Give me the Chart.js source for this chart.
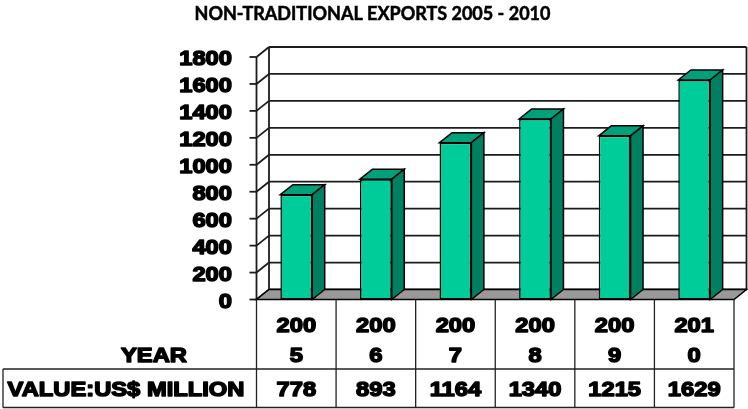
<!DOCTYPE html>
<html>
<head>
<meta charset="utf-8">
<script src="https://cdn.jsdelivr.net/npm/chart.js@4/dist/chart.umd.min.js"></script>
<style>
  html, body { margin: 0; padding: 0; background: #ffffff; }
  #wrap { width: 748px; height: 409px; }
</style>
</head>
<body>
<div id="wrap"><canvas id="c" width="748" height="409"></canvas></div>
<script>
// Non-traditional exports, US$ million
const titleText = 'NON-TRADITIONAL EXPORTS 2005 - 2010';
const years = ['2005', '2006', '2007', '2008', '2009', '2010'];
const exportValues = [778, 893, 1164, 1340, 1215, 1629];
const yTicks = [0, 200, 400, 600, 800, 1000, 1200, 1400, 1600, 1800];
const yearRowLabel = 'YEAR';
const valueRowLabel = 'VALUE:US$ MILLION';

// 3D look: depth offset of the back plane
const DEPTH_X = 12.5;
const DEPTH_Y = -10;

const FRONT = '#00CC99';
const TOP = '#00A07A';
const SIDE = '#008060';
const FLOOR = '#999999';
const INK = '#000000';

function heavyText(ctx, text, x, y, align, size) {
  ctx.save();
  ctx.translate(x, y);
  ctx.scale(1.13, 1);
  ctx.font = 'bold ' + (size || 21) + 'px "Liberation Sans", Arial, sans-serif';
  ctx.textAlign = align;
  ctx.textBaseline = 'alphabetic';
  ctx.fillStyle = INK;
  ctx.strokeStyle = INK;
  ctx.lineWidth = 1.5;
  ctx.lineJoin = 'round';
  ctx.fillText(text, 0, 0);
  ctx.strokeText(text, 0, 0);
  ctx.restore();
}

function line(ctx, x1, y1, x2, y2) {
  ctx.beginPath();
  ctx.moveTo(x1, y1);
  ctx.lineTo(x2, y2);
  ctx.stroke();
}

const box3d = {
  id: 'box3d',
  beforeDatasetsDraw(chart) {
    const ctx = chart.ctx;
    const a = chart.chartArea;
    const ys = chart.scales.y;
    const yTop = ys.getPixelForValue(yTicks[yTicks.length - 1]);
    const yBot = ys.getPixelForValue(0);
    ctx.save();
    // back wall grid lines and left wall diagonals
    ctx.strokeStyle = '#1c1c1c';
    ctx.lineWidth = 1.8;
    yTicks.forEach(v => {
      const py = ys.getPixelForValue(v);
      line(ctx, a.left + DEPTH_X, py + DEPTH_Y, a.right + DEPTH_X, py + DEPTH_Y);
      line(ctx, a.left, py, a.left + DEPTH_X, py + DEPTH_Y);
      line(ctx, a.left - 7, py, a.left, py);
    });
    // wall edges
    line(ctx, a.left, yTop, a.left, yBot);
    line(ctx, a.left + DEPTH_X, yTop + DEPTH_Y, a.left + DEPTH_X, yBot + DEPTH_Y);
    line(ctx, a.right + DEPTH_X, yTop + DEPTH_Y, a.right + DEPTH_X, yBot + DEPTH_Y);
    // floor
    ctx.beginPath();
    ctx.moveTo(a.left, yBot);
    ctx.lineTo(a.right, yBot);
    ctx.lineTo(a.right + DEPTH_X, yBot + DEPTH_Y);
    ctx.lineTo(a.left + DEPTH_X, yBot + DEPTH_Y);
    ctx.closePath();
    ctx.fillStyle = FLOOR;
    ctx.fill();
    ctx.lineWidth = 1.5;
    ctx.strokeStyle = INK;
    ctx.stroke();
    ctx.restore();
  },
  afterDatasetsDraw(chart) {
    const ctx = chart.ctx;
    const meta = chart.getDatasetMeta(0);
    ctx.save();
    ctx.strokeStyle = INK;
    ctx.lineWidth = 1.5;
    ctx.lineJoin = 'miter';
    meta.data.forEach(bar => {
      const p = bar.getProps(['x', 'y', 'base', 'width'], true);
      const L = p.x - p.width / 2, R = p.x + p.width / 2;
      const T = p.y, B = p.base;
      // top face
      ctx.beginPath();
      ctx.moveTo(L, T);
      ctx.lineTo(L + DEPTH_X, T + DEPTH_Y);
      ctx.lineTo(R + DEPTH_X, T + DEPTH_Y);
      ctx.lineTo(R, T);
      ctx.closePath();
      ctx.fillStyle = TOP;
      ctx.fill();
      ctx.stroke();
      // side face
      ctx.beginPath();
      ctx.moveTo(R, T);
      ctx.lineTo(R + DEPTH_X, T + DEPTH_Y);
      ctx.lineTo(R + DEPTH_X, B + DEPTH_Y);
      ctx.lineTo(R, B);
      ctx.closePath();
      ctx.fillStyle = SIDE;
      ctx.fill();
      ctx.stroke();
    });
    ctx.restore();
  },
  afterDraw(chart) {
    const ctx = chart.ctx;
    const a = chart.chartArea;
    const xs = chart.scales.x;
    const ys = chart.scales.y;
    const yBot = ys.getPixelForValue(0);

    // title
    ctx.save();
    ctx.font = 'bold 18px Lato, "Open Sans", sans-serif';
    ctx.fillStyle = INK;
    ctx.strokeStyle = INK;
    ctx.lineWidth = 0.5;
    ctx.textAlign = 'center';
    ctx.textBaseline = 'alphabetic';
    ctx.fillText(titleText, 372.5, 20);
    ctx.strokeText(titleText, 372.5, 20);
    ctx.restore();

    // y tick labels
    yTicks.forEach(v => {
      heavyText(ctx, String(v), 232, ys.getPixelForValue(v) + 8, 'right');
    });

    // data table
    const rowSplit = 369;
    const tableBottom = 407.5;
    const tableLeft = 3;
    ctx.save();
    ctx.strokeStyle = '#222';
    ctx.lineWidth = 1.3;
    const step = (a.right - a.left) / years.length;
    for (let i = 0; i <= years.length; i++) {
      const bx = i < years.length ? xs.getPixelForValue(i) - step / 2 : xs.getPixelForValue(i - 1) + step / 2;
      line(ctx, bx, yBot, bx, tableBottom);
    }
    line(ctx, tableLeft, rowSplit, a.right, rowSplit);
    line(ctx, tableLeft, tableBottom, a.right, tableBottom);
    line(ctx, tableLeft, rowSplit, tableLeft, tableBottom);
    ctx.restore();

    years.forEach((yr, i) => {
      const cx = xs.getPixelForValue(i);
      heavyText(ctx, yr.slice(0, 3), cx, 332, 'center');
      heavyText(ctx, yr.slice(3), cx, 362, 'center');
      heavyText(ctx, String(exportValues[i]), cx, 396, 'center');
    });
    heavyText(ctx, yearRowLabel, 154, 362, 'center');
    heavyText(ctx, valueRowLabel, 126, 396, 'center');
  }
};

new Chart(document.getElementById('c'), {
  type: 'bar',
  data: {
    labels: years,
    datasets: [{
      data: exportValues,
      backgroundColor: FRONT,
      borderColor: INK,
      borderWidth: 1.5,
      borderSkipped: false,
      categoryPercentage: 1,
      barPercentage: 0.4
    }]
  },
  options: {
    responsive: false,
    animation: false,
    devicePixelRatio: 1,
    layout: { padding: { left: 256.5, right: 14, top: 57, bottom: 109.5 } },
    scales: {
      x: { display: false, offset: true },
      y: { display: false, min: 0, max: 1800, ticks: { stepSize: 200 } }
    },
    plugins: {
      legend: { display: false },
      title: { display: false },
      tooltip: { enabled: false }
    }
  },
  plugins: [box3d]
});
</script>
</body>
</html>
